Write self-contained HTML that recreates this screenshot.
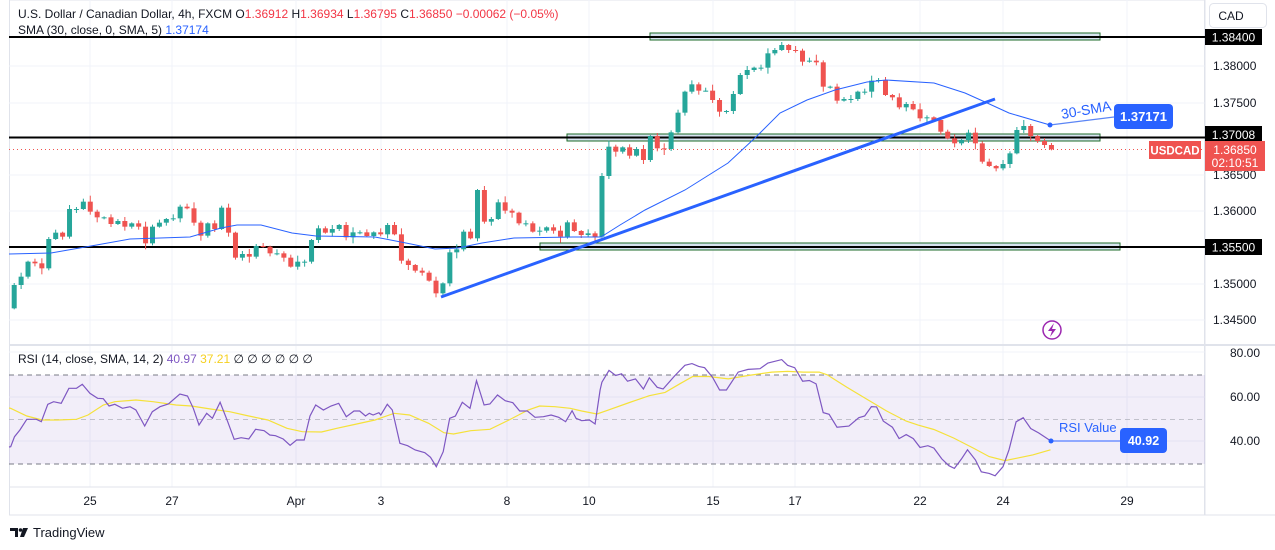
<!DOCTYPE html>
<html><head><meta charset="utf-8"><style>
html,body{margin:0;padding:0;background:#fff;width:1275px;height:550px;overflow:hidden}
svg{display:block;font-family:"Liberation Sans",sans-serif}
</style></head><body>
<svg id="s" width="1275" height="550" viewBox="0 0 1275 550" xmlns="http://www.w3.org/2000/svg">
<rect x="0" y="0" width="1275" height="550" fill="#fff"/>
<rect x="9.5" y="0" width="1195" height="515" fill="none" stroke="#e0e3eb"/>
<g id="grid" stroke="#f0f3fa" stroke-width="1"></g>
<line x1="1205" y1="0" x2="1205" y2="515" stroke="#e0e3eb"/>
<line x1="9" y1="345" x2="1275" y2="345" stroke="#e0e3eb" stroke-width="2"/>
<line x1="9" y1="487" x2="1205" y2="487" stroke="#e0e3eb"/>
<line x1="9" y1="515" x2="1275" y2="515" stroke="#e0e3eb"/>
<rect x="9" y="375" width="1196" height="89" fill="#7e57c2" fill-opacity="0.1"/>
<line x1="9" y1="375" x2="1205" y2="375" stroke="#787b86" stroke-dasharray="5,4"/>
<line x1="9" y1="419.5" x2="1205" y2="419.5" stroke="#a0a3ab" stroke-dasharray="5,4" stroke-opacity="0.6"/>
<line x1="9" y1="464" x2="1205" y2="464" stroke="#787b86" stroke-dasharray="5,4"/>
<rect x="650" y="33" width="450" height="7" fill="#d6e2ef" stroke="#1e6b2a" stroke-width="1"/>
<rect x="567" y="134" width="533" height="7" fill="#d6e2ef" stroke="#1e6b2a" stroke-width="1"/>
<rect x="540" y="243" width="580" height="7" fill="#d6e2ef" stroke="#1e6b2a" stroke-width="1"/>
<line x1="9" y1="37" x2="1205" y2="37" stroke="#000" stroke-width="2"/>
<line x1="9" y1="137.5" x2="1205" y2="137.5" stroke="#000" stroke-width="2"/>
<line x1="9" y1="247" x2="1205" y2="247" stroke="#000" stroke-width="2"/>
<line x1="9" y1="149.5" x2="1205" y2="149.5" stroke="#ef5350" stroke-dasharray="1,3"/>
<g id="candles"></g>
<path id="sma" fill="none" stroke="#2962ff" stroke-width="1"/>
<line x1="441" y1="297" x2="995" y2="99" stroke="#2962ff" stroke-width="3"/>
<line x1="1050" y1="125" x2="1114" y2="117" stroke="#5b85f5" stroke-width="1.2"/>
<circle cx="1050" cy="125" r="2.5" fill="#2962ff"/>
<text x="1062" y="119" font-size="14" fill="#2962ff" transform="rotate(-10 1062 119)">30-SMA</text>
<rect x="1114" y="104" width="59" height="25" rx="4" fill="#2962ff"/>
<text x="1143.5" y="121" font-size="13" font-weight="bold" fill="#fff" text-anchor="middle">1.37171</text>
<path id="rsiy" fill="none" stroke="#f5e13a" stroke-width="1.2"/>
<path id="rsi" fill="none" stroke="#7e57c2" stroke-width="1.2"/>
<line x1="1051" y1="441" x2="1120" y2="441" stroke="#90a8ff" stroke-width="2"/>
<circle cx="1051" cy="441" r="2.5" fill="#2962ff"/>
<text x="1059" y="432" font-size="13" fill="#2962ff">RSI Value</text>
<rect x="1120" y="428" width="47" height="25" rx="4" fill="#2962ff"/>
<text x="1143.5" y="445" font-size="12.5" font-weight="bold" fill="#fff" text-anchor="middle">40.92</text>
<circle cx="1052" cy="330" r="9" fill="#fff" stroke="#9c27b0" stroke-width="1.5"/>
<path d="M1054 323 L1048 331 L1052 331 L1050 337 L1056 329 L1052 329 Z" fill="#9c27b0"/>
<text x="18" y="18" font-size="12" fill="#131722">U.S. Dollar / Canadian Dollar, 4h, FXCM <tspan fill="#131722">O</tspan><tspan fill="#f23645">1.36912</tspan> <tspan fill="#131722">H</tspan><tspan fill="#f23645">1.36934</tspan> <tspan fill="#131722">L</tspan><tspan fill="#f23645">1.36795</tspan> <tspan fill="#131722">C</tspan><tspan fill="#f23645">1.36850 −0.00062 (−0.05%)</tspan></text>
<text x="18" y="34" font-size="12" fill="#131722">SMA (30, close, 0, SMA, 5) <tspan fill="#2962ff">1.37174</tspan></text>
<text x="18" y="363" font-size="12" fill="#131722">RSI (14, close, SMA, 14, 2) <tspan fill="#7e57c2">40.97</tspan> <tspan fill="#f5d020">37.21</tspan> <tspan fill="#131722">  ∅  ∅  ∅  ∅  ∅  ∅</tspan></text>
<g font-size="12" fill="#131722">
<text x="1213" y="70">1.38000</text>
<text x="1213" y="107">1.37500</text>
<text x="1213" y="179">1.36500</text>
<text x="1213" y="215">1.36000</text>
<text x="1213" y="288">1.35000</text>
<text x="1213" y="324">1.34500</text>
<text x="1230" y="357">80.00</text>
<text x="1230" y="401">60.00</text>
<text x="1230" y="445">40.00</text>
</g>
<rect x="1205" y="29" width="57" height="16" fill="#000"/>
<text x="1233.5" y="41.5" font-size="12" fill="#fff" text-anchor="middle">1.38400</text>
<rect x="1205" y="126" width="57" height="17" fill="#000"/>
<text x="1233.5" y="139" font-size="12" fill="#fff" text-anchor="middle">1.37008</text>
<rect x="1205" y="239" width="57" height="16" fill="#000"/>
<text x="1233.5" y="251.5" font-size="12" fill="#fff" text-anchor="middle">1.35500</text>
<rect x="1149" y="141" width="52" height="18" fill="#ef5350"/>
<text x="1175" y="154.5" font-size="11.5" font-weight="bold" fill="#fff" text-anchor="middle">USDCAD</text>
<rect x="1205" y="141" width="60" height="30" fill="#ef5350"/>
<text x="1235" y="154" font-size="12" fill="#fff" text-anchor="middle">1.36850</text>
<text x="1235" y="167" font-size="12" fill="#fff" text-anchor="middle">02:10:51</text>
<rect x="1209.5" y="3.5" width="57" height="24" rx="4" fill="#fff" stroke="#e0e3eb"/>
<text x="1231" y="20" font-size="12" fill="#131722" text-anchor="middle">CAD</text>
<g font-size="12" fill="#131722" text-anchor="middle">
<text x="90" y="505">25</text><text x="172" y="505">27</text><text x="296" y="505">Apr</text>
<text x="381" y="505">3</text><text x="507" y="505">8</text><text x="589" y="505">10</text>
<text x="713" y="505">15</text><text x="795" y="505">17</text><text x="920" y="505">22</text>
<text x="1003" y="505">24</text><text x="1127" y="505">29</text>
</g>
<path d="M10 528 h8 v9 h-3 v-6 h-5 z" fill="#131722"/>
<circle cx="20.5" cy="530" r="1.8" fill="#131722"/>
<path d="M23 528 h5 l-4 9 h-4 z" fill="#131722"/>
<text x="33" y="537" font-size="13" fill="#131722">TradingView</text>
</svg>
<script>
(function(){
var NS="http://www.w3.org/2000/svg";
function el(t,a,p){var e=document.createElementNS(NS,t);for(var k in a)e.setAttribute(k,a[k]);p.appendChild(e);return e;}
var grid=document.getElementById('grid');
[66,103,175,211,284,320,352,397,441].forEach(function(y){el('line',{x1:9,y1:y,x2:1205,y2:y},grid);});
[90,172,296,381,507,589,713,795,920,1003,1127].forEach(function(x){el('line',{x1:x,y1:0,x2:x,y2:487},grid);});
var A=[375,350,305,310,325,237,218,230,147,147,125,155,172,172,192,183,200,190,200,250,200,188,177,175,140,145,188,227,190,207,143,218,293,282,290,258,260,280,280,293,320,305,305,240,205,218,207,195,232,217,217,228,217,223,195,223,302,315,332,338,362,400,370,277,268,215,235,90,185,177,127,152,158,190,190,215,212,202,212,230,187,213,225,220,230,48];
var B=[350,365,352,377,357,390,318,355,357,307,248,185,163,182,182,210,245,243,192,135,120,113,113,70,60,45,60,62,95,92,97,170,170,212,207,207,185,185,152,150,195,202,232,222,238,265,262,270,305,325,340,330,308,340,395,408,415,402,370,300,288,318,333,345,358];
var closes=A.map(function(v){return 160+v/3;}).concat(B.map(function(v){return 30+v/3;}));
var g=document.getElementById('candles');
var prev=160+445/3;
var wk=[2,4,1,3,5,2,3,1,4,2,3,6,2,1,3];
for(var i=0;i<closes.length;i++){
 var x=14.2+i*6.915,o=prev,c=closes[i];
 var up=c<=o;var col=up?'#26a69a':'#ef5350';
 var top=Math.min(o,c),bot=Math.max(o,c);
 var hi=top-wk[i%15],lo=bot+wk[(i+7)%15];
 el('line',{x1:x,y1:hi,x2:x,y2:lo,stroke:col,'stroke-width':1},g);
 el('rect',{x:x-2.5,y:top,width:5,height:Math.max(1,bot-top),fill:col},g);
 prev=c;
}
function path(pts){return 'M'+pts.map(function(p){return p[0].toFixed(1)+' '+p[1].toFixed(1);}).join(' L');}
var sma=[[9,254],[51,253],[91,246],[130,239],[190,237],[221,228],[237,225],[261,225],[292,233],[316,236],[375,237],[411,244],[435,249],[458,248],[482,243],[514,238],[573,237],[601,237],[620,225],[645,210],[685,190],[728,163],[756,137],[780,113],[807,100],[835,90],[867,82],[886,80],[934,83],[965,93],[985,102],[1009,113],[1050,125]];
document.getElementById('sma').setAttribute('d',path(sma));
var L=[[28,320],[38,290],[52,270],[70,238],[95,238],[108,245],[125,193],[140,185],[160,190],[180,145],[200,145],[215,133],[235,160],[255,175],[270,176],[285,198],[300,193],[320,205],[340,200],[355,210],[378,258],[398,215],[418,200],[440,192],[470,162],[490,168],[505,205],[520,255],[540,220],[555,235],[575,187],[595,245],[612,298],[630,293],[650,297],[668,268],[690,272],[705,285],[720,287],[740,297],[758,316],[775,300],[795,300],[810,228],[825,195],[845,210],[865,198],[885,190],[905,230],[925,213],[940,213],[955,228],[965,220],[975,225],[990,218],[995,225],[1012,193],[1025,210],[1045,310],[1065,317],[1085,330],[1110,338],[1125,352],[1140,380],[1158,335],[1175,235],[1190,228],[1208,187],[1228,205],[1245,122],[1265,195],[1280,192],[1300,165],[1320,182],[1340,188],[1358,213],[1378,213],[1398,232],[1420,230],[1440,225],[1460,232],[1478,245],[1495,212],[1505,235],[1520,242],[1540,240],[1555,252],[1568,150]].map(function(p){return [p[0]/2.613,340+p[1]/3];});
var R=[[30,125],[48,90],[65,105],[80,100],[95,122],[115,115],[135,145],[150,112],[170,140],[185,145],[215,105],[240,75],[258,70],[275,78],[290,82],[310,110],[328,148],[345,148],[375,95],[400,87],[430,85],[450,68],[485,58],[500,75],[518,82],[538,122],[555,120],[572,130],[590,215],[605,220],[625,258],[655,255],[680,230],[695,225],[712,197],[725,198],[742,240],[765,258],[782,292],[800,280],[818,292],[835,318],[855,313],[870,320],[890,352],[908,372],[922,380],[940,352],[955,325],[975,355],[990,390],[1010,395],[1025,402],[1045,375],[1060,325],[1078,242],[1096,230],[1115,262],[1135,275],[1165,298]].map(function(p){return [590+p[0]/2.53,340+p[1]/2.96];});
document.getElementById('rsi').setAttribute('d',path([[9,447]].concat(L,R)));
var LY=[[28,205],[70,228],[110,240],[150,240],[200,238],[230,225],[270,195],[300,185],[355,180],[400,185],[460,195],[500,198],[550,207],[600,215],[650,228],[700,240],[750,265],[790,275],[840,276],[880,265],[920,255],[980,240],[1030,220],[1070,225],[1120,250],[1160,278],[1185,282],[1230,272],[1280,268],[1330,240],[1380,210],[1410,198],[1450,200],[1490,205],[1520,213],[1560,222]].map(function(p){return [p[0]/2.613,340+p[1]/3];});
var RY=[[40,210],[100,185],[150,165],[190,155],[230,128],[260,108],[300,108],[350,115],[400,105],[460,95],[500,93],[540,95],[580,95],[600,103],[650,140],[700,175],[750,210],[800,240],[830,252],[870,265],[920,290],[970,320],[1010,345],[1050,357],[1080,350],[1120,340],[1165,325]].map(function(p){return [590+p[0]/2.53,340+p[1]/2.96];});
document.getElementById('rsiy').setAttribute('d',path([[9,408]].concat(LY,RY)));
})();
</script>
</body></html>
